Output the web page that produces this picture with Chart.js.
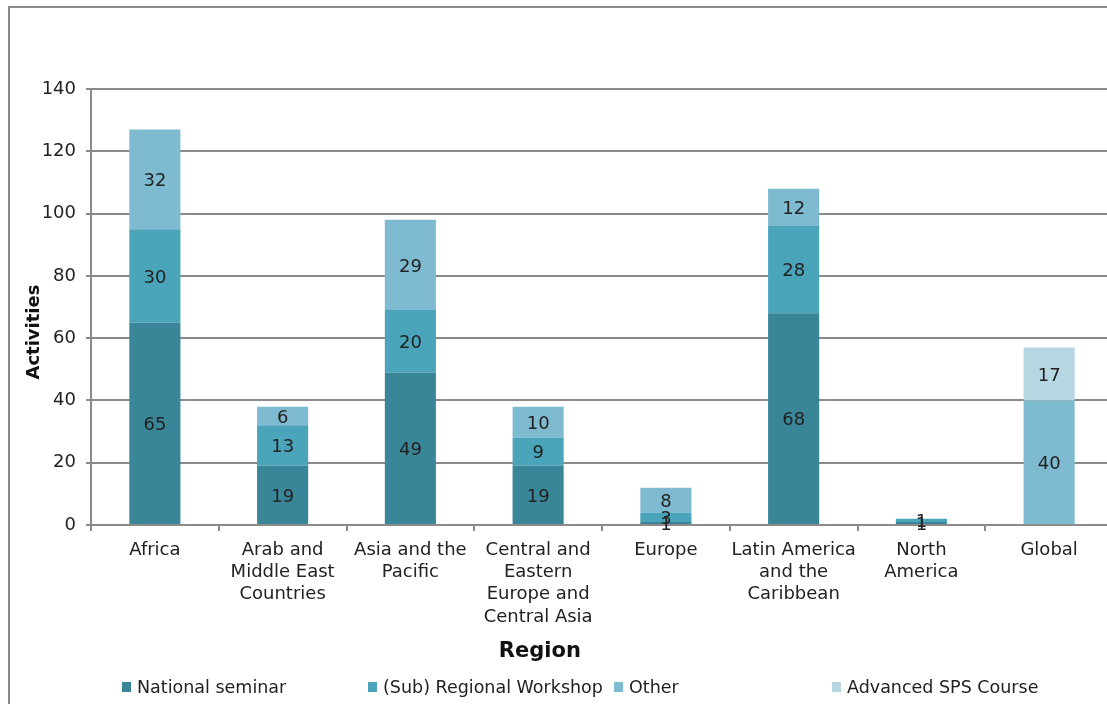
<!DOCTYPE html>
<html>
<head>
<meta charset="utf-8">
<script src="https://cdn.jsdelivr.net/npm/chart.js@4/dist/chart.umd.min.js"></script>
<style>
  html, body { margin: 0; padding: 0; background: #fff; overflow: hidden; }
  body { width: 1107px; height: 704px; position: relative; font-family: "DejaVu Sans", Verdana, sans-serif; }
  #frame { position: absolute; left: 8px; top: 6px; width: 1200px; height: 800px; border: 2px solid #8a8a8a; box-sizing: border-box; }
  #wrap { position: absolute; left: 0; top: 0; width: 1130px; height: 704px; }
  #legend { position: absolute; left: 122px; top: 677px; display: flex; font-size: 17.5px; color: #222; }
  #legend .item { display: flex; align-items: center; }
  #legend .box { width: 9px; height: 10px; margin-right: 6px; }
</style>
</head>
<body>
<div id="frame"></div>
<div id="wrap"><canvas id="chart" width="1130" height="704"></canvas></div>
<div id="legend"></div>
<script>
const regions = [
  ["Africa"],
  ["Arab and", "Middle East", "Countries"],
  ["Asia and the", "Pacific"],
  ["Central and", "Eastern", "Europe and", "Central Asia"],
  ["Europe"],
  ["Latin America", "and the", "Caribbean"],
  ["North", "America"],
  ["Global"]
];
const nationalSeminar = [65, 19, 49, 19, 1, 68, 1, null];
const regionalWorkshop = [30, 13, 20, 9, 3, 28, 1, null];
const otherActivities = [32, 6, 29, 10, 8, 12, null, 40];
const advancedCourse = [null, null, null, null, null, null, null, 17];
const seriesNames = ["National seminar", "(Sub) Regional Workshop", "Other", "Advanced SPS Course"];
const yTicks = [0, 20, 40, 60, 80, 100, 120, 140];

const colors = ["#3a8699", "#4aa4ba", "#7fbbd0", "#b6d6e2"];
const legendSlots = [246, 246, 218, 220];
const font = "DejaVu Sans";

// the titles sit off-centre in the original, trailing spaces push them over
const xTitle = "Region" + " ".repeat(17);
const yTitle = "Activities" + " ".repeat(8);

const valueLabels = {
  id: "valueLabels",
  afterDatasetsDraw(chart) {
    const ctx = chart.ctx;
    ctx.save();
    ctx.font = "18px '" + font + "'";
    ctx.fillStyle = "#222";
    ctx.textAlign = "center";
    ctx.textBaseline = "middle";
    chart.data.datasets.forEach((ds, i) => {
      const meta = chart.getDatasetMeta(i);
      meta.data.forEach((bar, j) => {
        const v = ds.data[j];
        if (!v) return;
        const p = bar.getProps(["x", "y", "base"], true);
        ctx.fillText(String(v), p.x, (p.y + p.base) / 2 + 2);
      });
    });
    ctx.restore();
  }
};

const datasets = [nationalSeminar, regionalWorkshop, otherActivities, advancedCourse].map((d, i) => ({
  label: seriesNames[i],
  data: d,
  backgroundColor: colors[i],
  borderWidth: 0,
  barPercentage: 0.4,
  categoryPercentage: 1
}));

const chart = new Chart(document.getElementById("chart"), {
  type: "bar",
  data: { labels: regions, datasets: datasets },
  options: {
    responsive: false,
    animation: false,
    layout: { padding: { top: 89, right: 17, bottom: 34, left: 0 } },
    plugins: {
      legend: { display: false },
      tooltip: { enabled: false }
    },
    scales: {
      x: {
        stacked: true,
        grid: { display: true, drawOnChartArea: false, color: "#8a8a8a", lineWidth: 2, tickLength: 6, offset: true },
        border: { color: "#8a8a8a", width: 2 },
        ticks: { color: "#222", font: { family: font, size: 18, lineHeight: 1.24 }, padding: 8, maxRotation: 0, autoSkip: false },
        title: { display: true, text: xTitle, color: "#111", font: { family: font, size: 21, weight: "bold" }, padding: { top: 0, bottom: 6 } },
        afterFit(scale) { scale.height = 145; }
      },
      y: {
        stacked: true,
        min: 0,
        max: 140,
        afterBuildTicks(scale) { scale.ticks = yTicks.map(v => ({ value: v })); },
        grid: { color: "#8a8a8a", lineWidth: 2, tickLength: 5 },
        border: { color: "#8a8a8a", width: 2 },
        ticks: { color: "#222", font: { family: font, size: 18 }, padding: 10 },
        title: { display: true, text: yTitle, color: "#111", font: { family: font, size: 18, weight: "bold" }, padding: { top: 24, bottom: 0 } },
        afterFit(scale) { scale.width = 91; }
      }
    }
  },
  plugins: [valueLabels]
});

const legend = document.getElementById("legend");
chart.data.datasets.forEach((ds, i) => {
  const item = document.createElement("div");
  item.className = "item";
  item.style.width = legendSlots[i] + "px";
  const box = document.createElement("span");
  box.className = "box";
  box.style.background = ds.backgroundColor;
  const txt = document.createElement("span");
  txt.textContent = ds.label;
  item.appendChild(box);
  item.appendChild(txt);
  legend.appendChild(item);
});
</script>
</body>
</html>
